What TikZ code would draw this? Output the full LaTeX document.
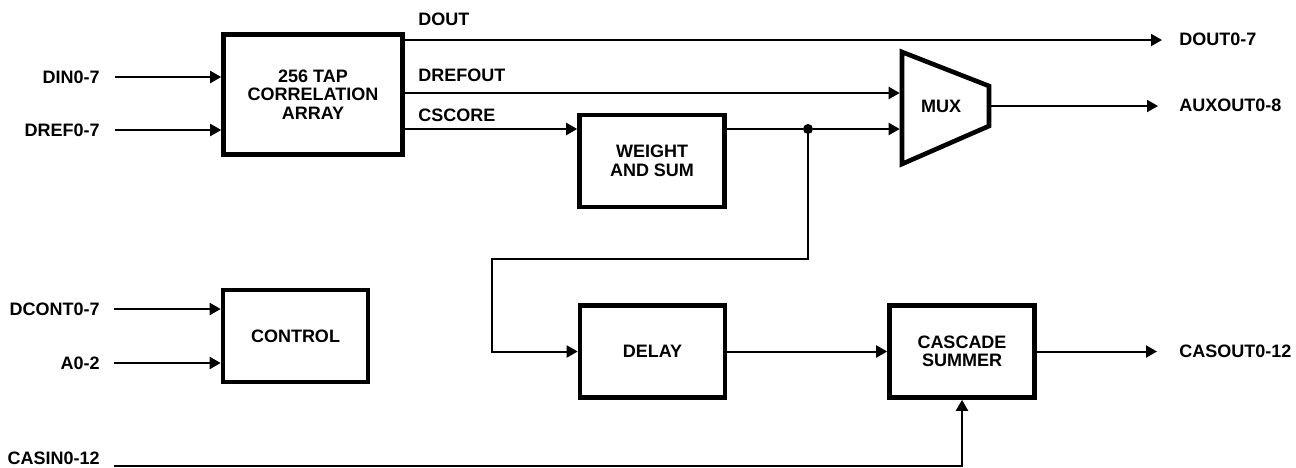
\documentclass[tikz,border=0pt]{standalone}
\usepackage{fontspec}
\setmainfont{Liberation Sans}
\usetikzlibrary{arrows.meta}
\begin{document}
\begin{tikzpicture}[x=0.5pt,y=-0.5pt,
  txt/.style={font=\fontsize{9}{9.25}\selectfont\bfseries},
  blk/.style={txt, draw, line width=2.3pt, minimum width=72.5pt, minimum height=46pt, inner sep=0pt, align=center},
  lbl/.style={txt, inner sep=0pt},
  sig/.style={line width=1pt},
  arr/.style={sig, -{Triangle[length=5.5pt,width=6pt]}},
  muxshape/.style={draw, line width=2.3pt, line join=miter},
  dot/.style={circle, fill, inner sep=0pt, minimum size=5pt},
]
\useasboundingbox (0,0) rectangle (1296,467);

% blocks
\node[blk, minimum width=89.5pt, minimum height=60pt] (corr) at (313,94.5) {256 TAP\\CORRELATION\\ARRAY};
\node[blk] (ws)  at (652,161)   {WEIGHT\\AND SUM};
\node[blk] (ctl) at (295.5,336) {CONTROL};
\node[blk] (dly) at (652.5,351.5) {DELAY};
\node[blk] (cas) at (962,351.5) {CASCADE\\SUMMER};

% MUX
\draw[muxshape] (902,52) -- (989,86) -- (989,126) -- (902,164) -- cycle;
\node[lbl] (mux) at (941,106) {MUX};
\coordinate (muxin1) at (899.7,93);
\coordinate (muxin2) at (899.7,129);
\coordinate (muxout) at (991.3,106);

% input labels
\node[lbl, anchor=east] (ldin)   at (100,77)  {DIN0-7};
\node[lbl, anchor=east] (ldref)  at (100,130) {DREF0-7};
\node[lbl, anchor=east] (ldcont) at (100,309) {DCONT0-7};
\node[lbl, anchor=east] (la)     at (100,363) {A0-2};
\node[lbl, anchor=east] (lcasin) at (100,458.5) {CASIN0-12};

% output labels
\node[lbl, anchor=west] (ldout)   at (1179,39.5)  {DOUT0-7};
\node[lbl, anchor=west] (lauxout) at (1179,105.5) {AUXOUT0-8};
\node[lbl, anchor=west] (lcasout) at (1179,351.5) {CASOUT0-12};

% signal labels
\node[lbl, anchor=west] (sdout)    at (418,19.5)  {DOUT};
\node[lbl, anchor=west] (sdrefout) at (418,75.5)  {DREFOUT};
\node[lbl, anchor=west] (scscore)  at (418,115.5) {CSCORE};

% junction and routing points
\node[dot] (jn) at (808,129) {};
\coordinate (fb1) at (808,259);
\coordinate (fb2) at (492,259);
\coordinate (cin) at (114,465.5);

% inputs
\draw[arr] ([xshift=7.5pt]ldin.east)   -- (corr.west |- ldin.east);
\draw[arr] ([xshift=7.5pt]ldref.east)  -- (corr.west |- ldref.east);
\draw[arr] ([xshift=7pt]ldcont.east) -- (ctl.west |- ldcont.east);
\draw[arr] ([xshift=7pt]la.east)     -- (ctl.west |- la.east);

% correlation outputs
\draw[arr] (corr.east |- 0,40) -- ([xshift=-8.5pt]ldout.west |- 0,40);
\draw[arr] (corr.east |- muxin1) -- (muxin1);
\draw[arr] (corr.east |- 0,129) -- (ws.west |- 0,129);

% weight and sum output
\draw[sig] (ws.east |- jn) -- (jn);
\draw[arr] (jn) -- (muxin2);
\draw[arr] (jn.center) -- (fb1) -- (fb2) |- (dly.west);

% mux output
\draw[arr] (muxout) -- ([xshift=-10.5pt]lauxout.west |- muxout);

% delay, cascade
\draw[arr] (dly.east) -- (cas.west);
\draw[arr] (cas.east) -- ([xshift=-11pt]lcasout.west);
\draw[arr] (cin) -| (cas.south);
\end{tikzpicture}
\end{document}
